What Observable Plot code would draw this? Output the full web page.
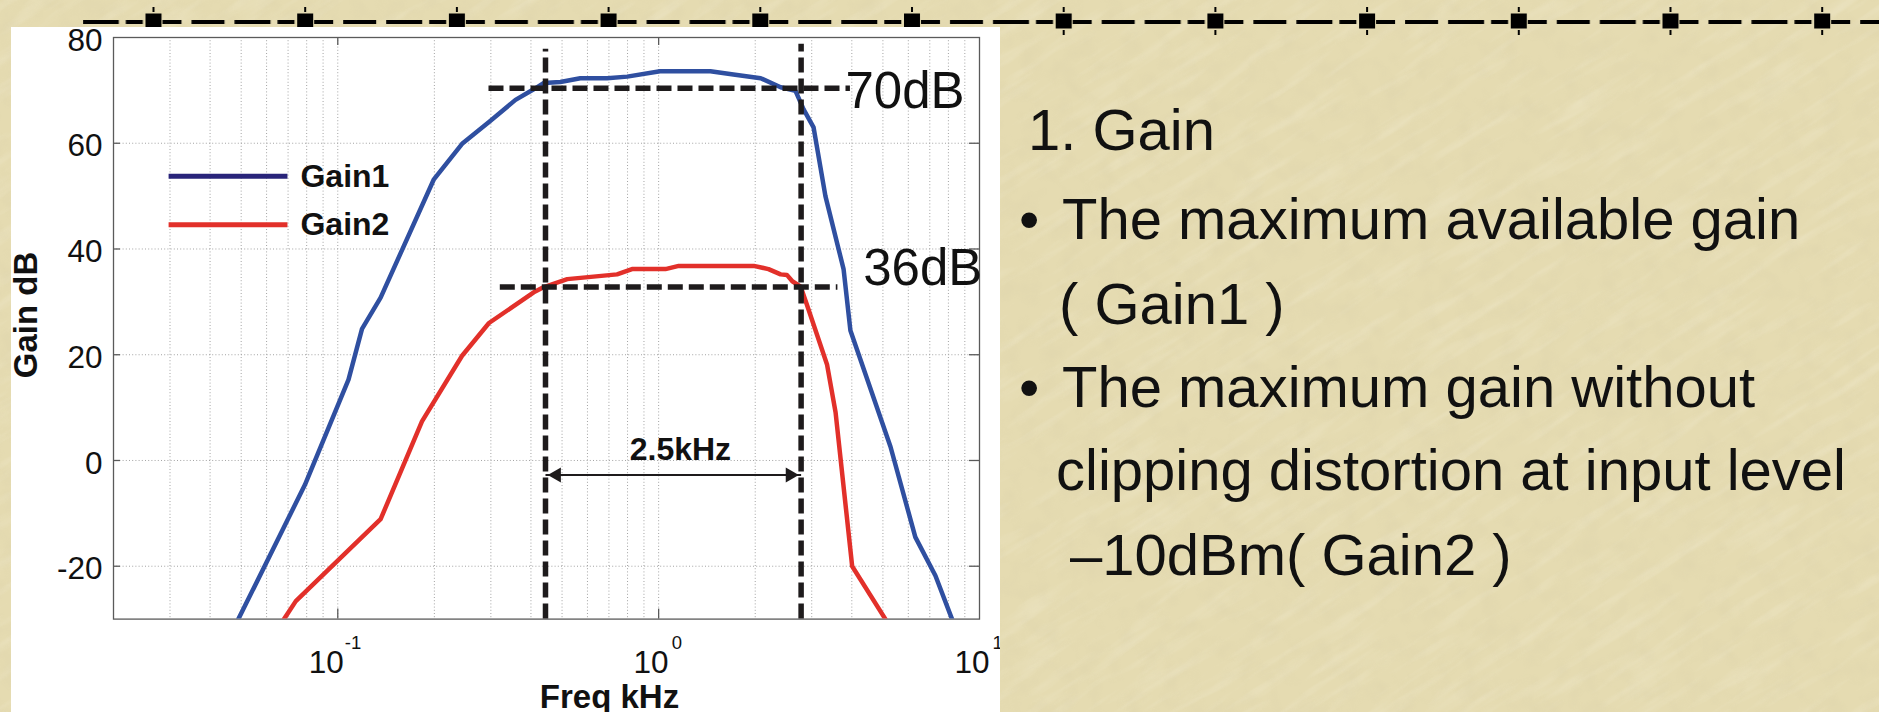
<!DOCTYPE html>
<html>
<head>
<meta charset="utf-8">
<script src="https://cdn.jsdelivr.net/npm/d3@7"></script>
<script src="https://cdn.jsdelivr.net/npm/@observablehq/plot@0.6"></script>
<style>
html, body { margin: 0; padding: 0; }
body {
  width: 1879px; height: 712px; overflow: hidden; position: relative;
  background: #e5dbb1;
  font-family: "Liberation Sans", Arial, sans-serif;
}
#tex { position: absolute; left: 0; top: 0; }
#deco { position: absolute; left: 0; top: 0; }
#panel { position: absolute; left: 11px; top: 27px; width: 989px; height: 685px; background: #fff; overflow: hidden; }
.ln { position: absolute; font-size: 58px; line-height: 58px; color: #111; white-space: nowrap; }
</style>
</head>
<body>
<svg id="tex" width="1879" height="712">
  <defs>
    <filter id="streak" x="0" y="0" width="100%" height="100%">
      <feTurbulence type="fractalNoise" baseFrequency="0.012 0.09" numOctaves="3" seed="7"/>
      <feColorMatrix type="matrix" values="0 0 0 0 1  0 0 0 0 0.99  0 0 0 0 0.93  0 0 0 1.6 -0.78"/>
    </filter>
    <filter id="speck" x="0" y="0" width="100%" height="100%">
      <feTurbulence type="fractalNoise" baseFrequency="0.05 0.05" numOctaves="2" seed="3"/>
      <feColorMatrix type="matrix" values="0 0 0 0 0.62  0 0 0 0 0.56  0 0 0 0 0.36  0 0 0 1.4 -0.62"/>
    </filter>
  </defs>
  <g transform="rotate(-32 940 356)">
    <rect x="-600" y="-800" width="3100" height="2300" filter="url(#streak)" opacity="0.25"/>
  </g>
  <rect x="0" y="0" width="1879" height="712" filter="url(#speck)" opacity="0.25"/>
</svg>
<svg id="deco" width="1879" height="40">
  <defs>
    <pattern id="pd" patternUnits="userSpaceOnUse" x="145.5" y="0" width="151.7" height="40">
      <rect x="0" y="13.5" width="16" height="15" fill="#000"/>
      <rect x="7" y="7" width="2" height="5" fill="#000"/>
      <rect x="7" y="30" width="2" height="5" fill="#000"/>
      <rect x="17" y="20" width="19" height="4" fill="#000"/>
      <rect x="46" y="20" width="33" height="4" fill="#000"/>
      <rect x="89" y="20" width="36" height="4" fill="#000"/>
      <rect x="132" y="20" width="17" height="4" fill="#000"/>
    </pattern>
  </defs>
  <rect x="83" y="0" width="1796" height="40" fill="url(#pd)"/>
</svg>
<div id="panel"></div>
<div class="ln" style="left:1028px;top:101px">1. Gain</div>
<div class="ln" style="left:1019px;top:190px">•</div>
<div class="ln" style="left:1062px;top:190px">The maximum available gain</div>
<div class="ln" style="left:1059px;top:275px">( Gain1 )</div>
<div class="ln" style="left:1019px;top:358px">•</div>
<div class="ln" style="left:1062px;top:358px">The maximum gain without</div>
<div class="ln" style="left:1056px;top:441px">clipping distortion at input level</div>
<div class="ln" style="left:1070px;top:526px">–10dBm( Gain2 )</div>
<script>
// ---- data ----
const gain1Freq = [0.049, 0.079, 0.108, 0.119, 0.136, 0.199, 0.244, 0.296, 0.358, 0.408, 0.439, 0.494, 0.570, 0.691, 0.798, 1.01, 1.45, 1.71, 2.08, 2.40, 2.67, 2.83, 3.04, 3.31, 3.77, 3.96, 5.28, 6.31, 7.29, 8.21];
const gain1 = [-30, -4.6, 15.3, 24.9, 30.8, 53.1, 59.9, 64.0, 68.2, 70.2, 71.4, 71.6, 72.3, 72.3, 72.6, 73.6, 73.6, 73.0, 72.3, 70.6, 69.9, 66.4, 63.0, 50.0, 36.2, 24.6, 2.6, -14.5, -21.8, -30];
const gain2Freq = [0.068, 0.074, 0.136, 0.183, 0.244, 0.296, 0.408, 0.439, 0.519, 0.742, 0.826, 1.05, 1.155, 1.98, 2.20, 2.40, 2.51, 2.61, 2.77, 2.90, 3.35, 3.56, 4.01, 5.09];
const gain2 = [-30, -26.6, -11.1, 7.4, 19.8, 26.0, 31.8, 32.8, 34.3, 35.2, 36.2, 36.2, 36.8, 36.8, 36.2, 35.2, 35.1, 33.9, 32.9, 29.4, 18.1, 9.1, -20.0, -30];
const seriesNames = ["Gain1", "Gain2"];
const seriesColors = ["#2f4fa0", "#e2302a"];
const legendColors = ["#29247a", "#e2302a"];
const legendY = [53.75, 44.6];
const legendFreq = [0.0297, 0.0697, 0.0765]; // line start, line end, label

const yTicks = [-20, 0, 20, 40, 60, 80];
const yGrid = [-20, 0, 20, 40, 60];
const xTicks = [0.1, 1, 10];
const xExponents = ["-1", "0", "1"];
const xGrid = [0.03, 0.04, 0.05, 0.06, 0.07, 0.08, 0.09, 0.1, 0.2, 0.3, 0.4, 0.5, 0.6, 0.7, 0.8, 0.9, 1, 2, 3, 4, 5, 6, 7, 8, 9];
const xMajor = [0.1, 1];

const cutoffFreqs = [0.444, 2.78];
const cutoffTop = [77.8, 78.7];
const levelValues = [70.4, 32.8];
const levelStart = [0.296, 0.321];
const levelEnd = [3.96, 3.62];
const levelLabels = ["70dB", "36dB"];
const levelLabelFreq = [3.82, 4.34];
const levelLabelBase = [66.7, 33.2];
const bandLabel = "2.5kHz";
const bandLabelFreq = 1.169;
const bandLabelBase = 0;
const bandArrowY = -2.75;

// ---- tables ----
const g1 = gain1Freq.map((f, i) => ({f, g: gain1[i]}));
const g2 = gain2Freq.map((f, i) => ({f, g: gain2[i]}));
const cutoffs = cutoffFreqs.map((f, i) => ({f, top: cutoffTop[i]}));
const levels = levelValues.map((v, i) => ({v, x1: levelStart[i], x2: levelEnd[i], label: levelLabels[i], lf: levelLabelFreq[i], lb: levelLabelBase[i]}));
const legend = seriesNames.map((name, i) => ({name, y: legendY[i], color: legendColors[i]}));
const ink = "#1e1b1c";

const xLabelMarks = xTicks.flatMap((t, i) => {
  const wide = xExponents[i].length > 1;
  return [
    Plot.text([t], {x: d => d, frameAnchor: "bottom", dy: 53.4, lineAnchor: "bottom", textAnchor: "end", dx: wide ? 6 : 10, text: () => "10", fontSize: 31.5, fill: "#111"}),
    Plot.text([t], {x: d => d, frameAnchor: "bottom", dy: 29.4, lineAnchor: "bottom", textAnchor: "start", dx: wide ? 7 : 13, text: () => xExponents[i], fontSize: 18.5, fill: "#111"})
  ];
});

const chart = Plot.plot({
  width: 989,
  height: 685,
  marginLeft: 102,
  marginRight: 21,
  marginTop: 10,
  marginBottom: 93.4,
  style: {fontFamily: "'Liberation Sans', Arial, sans-serif", fontSize: "31px", background: "#fff", color: "#111", overflow: "visible"},
  x: {type: "log", domain: [0.02, 10], label: null},
  y: {domain: [-30, 80], label: null},
  marks: [
    Plot.gridX(xGrid, {stroke: "#a3a3a3", strokeOpacity: 1, strokeDasharray: "1,2.2", strokeWidth: 1}),
    Plot.gridY(yGrid, {stroke: "#a3a3a3", strokeOpacity: 1, strokeDasharray: "1,2.2", strokeWidth: 1}),
    Plot.frame({stroke: "#5a5a5a", strokeWidth: 1.3}),
    Plot.tickY(yGrid, {y: d => d, insetRight: 859, stroke: "#5a5a5a", strokeWidth: 1.3}),
    Plot.tickY(yGrid, {y: d => d, insetLeft: 856, stroke: "#5a5a5a", strokeWidth: 1.3}),
    Plot.tickX(xMajor, {x: d => d, insetTop: 571.6, stroke: "#5a5a5a", strokeWidth: 1.3}),
    Plot.tickX(xMajor, {x: d => d, insetBottom: 573.6, stroke: "#5a5a5a", strokeWidth: 1.3}),
    Plot.axisY(yTicks, {anchor: "left", tickSize: 0, tickPadding: 11, dy: 3, fontSize: 31.5, tickFormat: d => String(d)}),
    Plot.axisX([], {anchor: "bottom", tickSize: 0}),
    ...xLabelMarks,
    Plot.text(["Freq kHz"], {frameAnchor: "bottom", dx: 63, dy: 88.4, lineAnchor: "bottom", textAnchor: "middle", fontWeight: "bold", fontSize: 33, fill: "#111"}),
    Plot.text(["Gain dB"], {frameAnchor: "left", rotate: -90, dx: -76.3, dy: -13.3, lineAnchor: "bottom", textAnchor: "middle", fontWeight: "bold", fontSize: 33, fill: "#111"}),
    Plot.line(g1, {x: "f", y: "g", stroke: seriesColors[0], strokeWidth: 4.5, clip: true}),
    Plot.line(g2, {x: "f", y: "g", stroke: seriesColors[1], strokeWidth: 4.5, clip: true}),
    Plot.ruleX(cutoffs, {x: "f", y1: () => -30, y2: "top", stroke: ink, strokeWidth: 5.5, strokeDasharray: "15,6"}),
    Plot.ruleY(levels, {y: "v", x1: "x1", x2: "x2", stroke: ink, strokeWidth: 5.5, strokeDasharray: "15,6"}),
    Plot.text(levels, {x: "lf", y: "lb", text: "label", lineAnchor: "bottom", textAnchor: "start", fontSize: 51, fill: "#111"}),
    Plot.link([0], {x1: () => cutoffFreqs[0], x2: () => cutoffFreqs[1], y1: () => bandArrowY, y2: () => bandArrowY, stroke: ink, strokeWidth: 2}),
    Plot.dot([cutoffFreqs[0]], {x: d => d, y: () => bandArrowY, symbol: "triangle", r: 5.6, rotate: -90, fill: ink, stroke: "none", dx: 11}),
    Plot.dot([cutoffFreqs[1]], {x: d => d, y: () => bandArrowY, symbol: "triangle", r: 5.6, rotate: 90, fill: ink, stroke: "none", dx: -11}),
    Plot.text([bandLabel], {x: () => bandLabelFreq, y: () => bandLabelBase, lineAnchor: "bottom", textAnchor: "middle", fontWeight: "bold", fontSize: 32, fill: "#111"}),
    ...legend.map(l => Plot.link([l], {x1: () => legendFreq[0], x2: () => legendFreq[1], y1: "y", y2: "y", stroke: l.color, strokeWidth: 5})),
    Plot.text(legend, {x: () => legendFreq[2], y: "y", text: "name", textAnchor: "start", lineAnchor: "middle", fontWeight: "bold", fontSize: 32, fill: "#111"})
  ]
});
document.getElementById("panel").appendChild(chart);
</script>
</body>
</html>
